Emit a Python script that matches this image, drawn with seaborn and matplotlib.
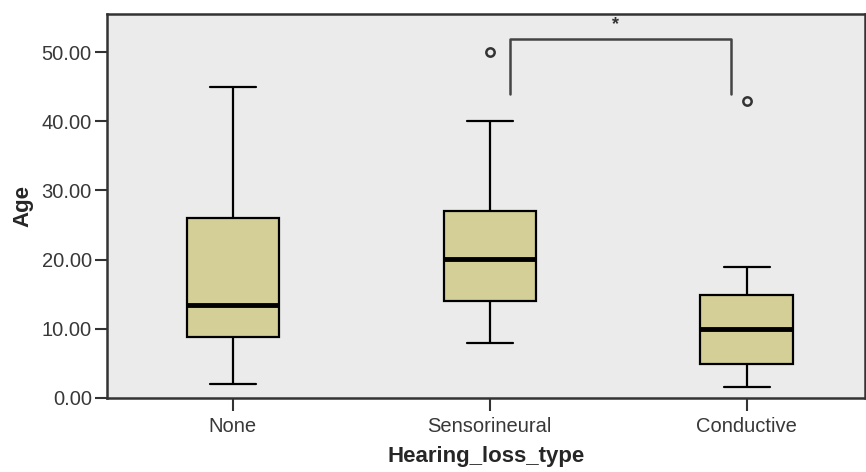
import numpy as np
import pandas as pd
import matplotlib
matplotlib.use('Agg')
import matplotlib.pyplot as plt
import seaborn as sns

groups = ['None', 'Sensorineural', 'Conductive']
# ages per group, picked so quartiles/whiskers/outliers match the picture
age_none = [2.0, 5.0, 8.8, 11.0, 13.4, 20.0, 26.0, 35.0, 45.0]
age_sens = [7.9, 11.0, 14.0, 17.0, 20.1, 24.0, 27.0, 40.0, 50.0]
age_cond = [1.6, 3.0, 4.9, 7.0, 10.0, 12.0, 14.9, 18.9, 42.9]

bracket_groups = ['Sensorineural', 'Conductive']
bracket_top = 51.9
bracket_bottom = 43.9
sig_label = '*'

df = pd.DataFrame({
    'Hearing_loss_type': ['None'] * len(age_none) + ['Sensorineural'] * len(age_sens) + ['Conductive'] * len(age_cond),
    'Age': age_none + age_sens + age_cond,
})

sns.set_style('ticks')
plt.rcParams['font.family'] = ['Liberation Sans', 'DejaVu Sans']

fig = plt.figure(figsize=(8.66, 4.72), dpi=100)
ax = fig.add_axes([0.1236, 0.157, 0.875, 0.813])
ax.set_facecolor('#ebebeb')

sns.boxplot(data=df, x='Hearing_loss_type', y='Age', order=groups, color='#d4cf96',
            linecolor='black', linewidth=1.6, width=0.36, saturation=1, whis=1.5,
            medianprops=dict(linewidth=3.5, color='black'),
            flierprops=dict(marker='o', markersize=6, markerfacecolor='none',
                            markeredgecolor='#333333', markeredgewidth=1.8),
            ax=ax)

x1 = groups.index(bracket_groups[0]) + 0.08
x2 = groups.index(bracket_groups[1]) - 0.06
ax.plot([x1, x1, x2, x2], [bracket_bottom, bracket_top, bracket_top, bracket_bottom],
        color='#444444', linewidth=1.8)
ax.text((x1 + x2) / 2 - 0.02, bracket_top + 0.8, sig_label, ha='center', va='bottom',
        fontsize=13, fontweight='bold', color='#333333')

ax.set_xlim(-0.49, 2.46)
ax.set_ylim(0, 55.5)
ax.set_yticks([0, 10, 20, 30, 40, 50])
ax.set_yticklabels(['%.2f' % v for v in [0, 10, 20, 30, 40, 50]])
ax.tick_params(axis='both', labelsize=14.5, labelcolor='#383838', length=9, width=1.5,
               color='#333333', direction='out', pad=2)
ax.tick_params(axis='x', pad=5)
ax.set_xlabel('Hearing_loss_type', fontsize=16, fontweight='bold', labelpad=7)
ax.set_ylabel('Age', fontsize=16, fontweight='bold', labelpad=6)
for s in ax.spines.values():
    s.set_linewidth(1.8)
    s.set_color('#333333')

fig.savefig('out.png', dpi=100)
